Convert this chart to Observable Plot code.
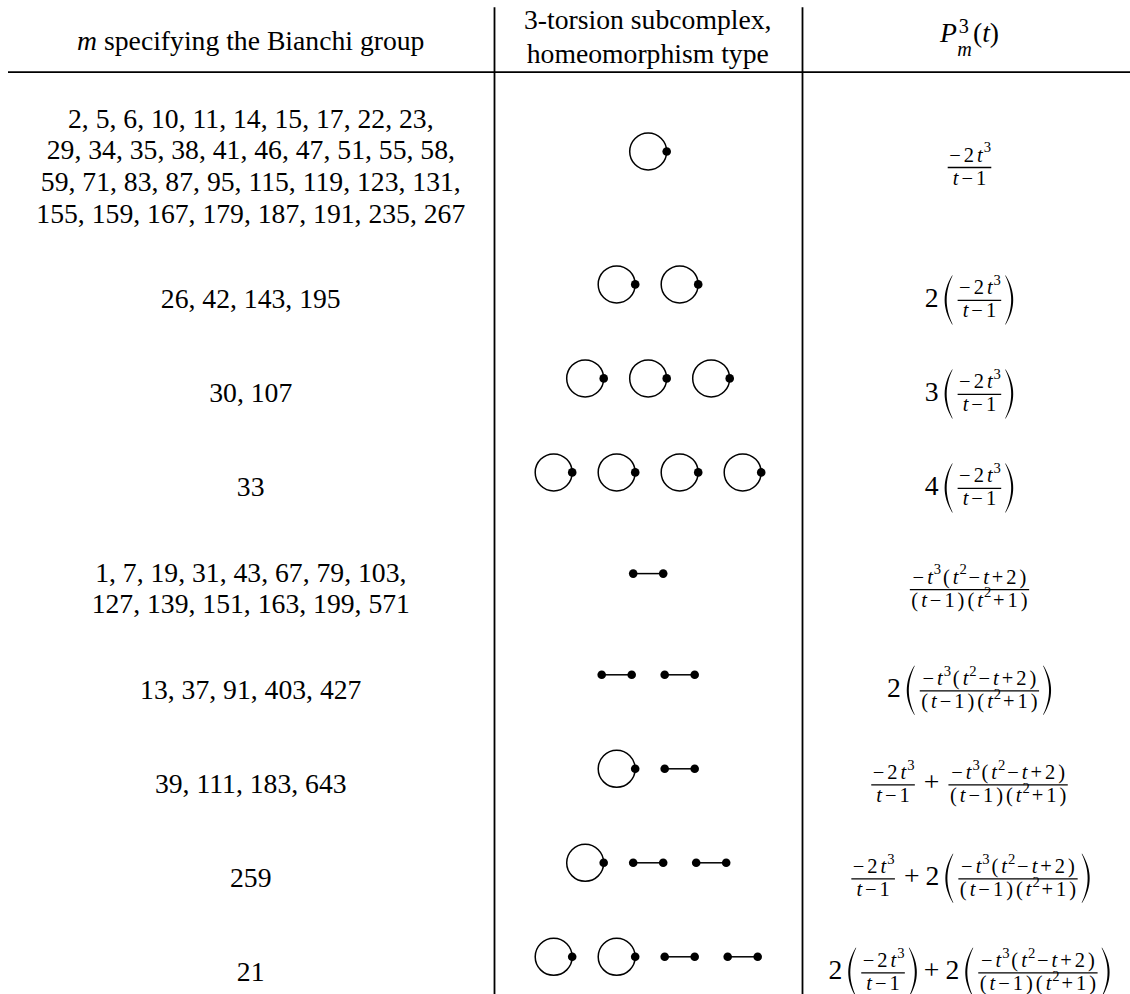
<!DOCTYPE html>
<html><head><meta charset="utf-8">
<script src="https://cdn.jsdelivr.net/npm/d3@7"></script>
<script src="https://cdn.jsdelivr.net/npm/@observablehq/plot@0.6"></script>
<style>
html,body{margin:0;padding:0;background:#fff;overflow:hidden}
</style>
</head><body><div id="chart"></div>
<script>
// ---------------- data ----------------
const headerM = ["m", " specifying the Bianchi group"];          // [italic part, upright part]
const headerType = ["3-torsion subcomplex,", "homeomorphism type"];
const headerP = "P^3_m(t)";
const mLists = [
  ["2, 5, 6, 10, 11, 14, 15, 17, 22, 23,", "29, 34, 35, 38, 41, 46, 47, 51, 55, 58,", "59, 71, 83, 87, 95, 115, 119, 123, 131,", "155, 159, 167, 179, 187, 191, 235, 267"],
  ["26, 42, 143, 195"],
  ["30, 107"],
  ["33"],
  ["1, 7, 19, 31, 43, 67, 79, 103,", "127, 139, 151, 163, 199, 571"],
  ["13, 37, 91, 403, 427"],
  ["39, 111, 183, 643"],
  ["259"],
  ["21"]
];
const loopCounts = [1, 2, 3, 4, 0, 0, 1, 1, 2];   // circles with one vertex
const edgeCounts = [0, 0, 0, 0, 1, 2, 1, 2, 2];   // edges with two vertices
const formulaSpecs = ["A", "2(A)", "3(A)", "4(A)", "B", "2(B)", "A+B", "A+2(B)", "2(A)+2(B)"];
const fractions = {A: ["−2t^3", "t−1"], B: ["−t^3(t^2−t+2)", "(t−1)(t^2+1)"]};

// ---------------- font detection ----------------
const ctx = document.createElement("canvas").getContext("2d");
function fontAvailable(name) {
  const s = "mmmmmmmmmmlli1WQgq0123456789";
  for (const base of ["monospace", "sans-serif", "cursive"]) {
    ctx.font = `50px ${base}`; const a = ctx.measureText(s).width;
    ctx.font = `50px "${name}", ${base}`; const b = ctx.measureText(s).width;
    if (Math.abs(a - b) > 0.5) return true;
  }
  return false;
}
const family = ["Liberation Serif", "Tinos", "Times New Roman", "Nimbus Roman", "TeX Gyre Termes", "DejaVu Serif", "Noto Serif", "FreeSerif"].find(fontAvailable);
const FONT = family ? `"${family}", serif` : "serif";
function tw(s, size, italic) { ctx.font = `${italic ? "italic " : ""}${size}px ${FONT}`; return ctx.measureText(s).width; }

// ---------------- layout (table geometry) ----------------
const W = 1130, H = 994;
const FS = Math.max(22, Math.min(30, 28 * 429 / tw(mLists[0][3], 28, false)));
const FSS = FS * 0.74, FSSS = FS * 0.53, LS = 3;
const col = {left: 8, div1: 494, div2: 802, c1: 250.7, c2: 647.7, c3: 969.5};
const ruleY = 71.7, tableTop = 7.3, rowsTop = 80.1, lineGap = 31.9;
const slotGap = 63, loopR = 18.5, vertR = 4.3, edgeHalf = 15;

// row centres from the number of text lines in each row
const rowCenters = [];
{ let y = rowsTop;
  for (const lines of mLists) { const h = Math.max(94, 45 + 31.7 * lines.length); rowCenters.push(y + h / 2); y += h; } }

const texts = [];    // typeset strings: {x, base, plain, parts:[{s, dx, dy, size, italic}]}
const bars = [];     // fraction bars
const parens = [];   // parenthesis outline points
let parenId = 0;

function plainText(s, x, base, italic, anchor) {
  const w = tw(s, FS, italic);
  const x0 = anchor === "middle" ? x - w / 2 : x;
  texts.push({x: x0, base, plain: s, parts: [{s, dx: 0, dy: 0, size: FS, italic}]});
}

// math string → positioned parts (letters italic; ^x superscript; _x subscript)
function layoutMath(str, size, small, ls) {
  let x = 0, i = 0; const parts = [];
  while (i < str.length) {
    let ch = str[i], kind = "base";
    if (ch === "^" || ch === "_") { kind = ch === "^" ? "sup" : "sub"; ch = str[++i]; }
    i++;
    const italic = /[a-zA-Z]/.test(ch);
    if (kind === "base") {
      const w = tw(ch, size, italic);
      parts.push({s: ch, dx: x, dy: 0, size, italic});
      x += w + ls;
    } else if (kind === "sup") {
      const w = tw(ch, small, italic);
      const sx = x - ls + 1 + (str[i - 3] === "P" ? 1 : 0);
      parts.push({s: ch, dx: sx, dy: -0.45 * size, size: small, italic, sup: true});
      x = sx + w + ls * 0.6;
      if (str[i] === "_") x = sx;
    } else {
      const w = tw(ch, small, italic);
      const sx = x - 1.5;
      parts.push({s: ch, dx: sx, dy: 0.5 * size, size: small, italic, sub: true});
      x = Math.max(x, sx + w) + ls + 1;
    }
  }
  return {parts, width: x - ls};
}

// header
{ const wm = tw(headerM[0], FS, true), wr = tw(headerM[1], FS, false);
  texts.push({x: col.c1 - (wm + wr) / 2, base: 50, plain: headerM.join(""),
    parts: [{s: headerM[0], dx: 0, dy: 0, size: FS, italic: true}, {s: headerM[1], dx: wm, dy: 0, size: FS, italic: false}]});
  headerType.forEach((s, i) => plainText(s, col.c2, i ? 63 : 29.3, false, "middle"));
  const m = layoutMath(headerP, FS, FS * 0.73, 0);
  texts.push({x: col.c3 - m.width / 2, base: 42, plain: "P3m(t)",
    parts: m.parts.map(p => p.sup ? {...p, dy: -9.5} : p.sub ? {...p, dy: 13.5} : p)});
}

// first column: lists of m
mLists.forEach((lines, r) => {
  const c = rowCenters[r];
  lines.forEach((s, k) => plainText(s, col.c1, c + (k - (lines.length - 1) / 2) * lineGap + 0.338 * FS, false, "middle"));
});

// second column: homeomorphism types
const loopsData = [], edgesData = [], vertsData = [];
loopCounts.forEach((nl, r) => {
  const n = nl + edgeCounts[r], y = rowCenters[r] - 15;
  for (let k = 0; k < n; k++) {
    const x = col.c2 + (k - (n - 1) / 2) * slotGap;
    if (k < nl) { loopsData.push({x, y}); vertsData.push({x: x + loopR, y}); }
    else { edgesData.push({x1: x - edgeHalf, x2: x + edgeHalf, y}); vertsData.push({x: x - edgeHalf, y}, {x: x + edgeHalf, y}); }
  }
});

// third column: Poincaré series
function parenPts(xl, axis, open) {
  const id = parenId++;
  for (let k = 0; k <= 16; k++) {
    const u = -1 + k / 8, th = 0.55 + 1.5 * (1 - u * u), y = axis + u * 24.5;
    if (open) { const a = xl + 7.5 * u * u; parens.push({id, y, a, b: a + th}); }
    else { const b = xl + 9 - 7.5 * u * u; parens.push({id, y, a: b - th, b}); }
  }
}
formulaSpecs.forEach((spec, r) => {
  const axis = rowCenters[r] + 1;
  const items = []; let x = 0;
  for (const ch of spec) {
    if (fractions[ch]) {
      const num = layoutMath(fractions[ch][0], FSS, FSSS, LS), den = layoutMath(fractions[ch][1], FSS, FSSS, LS);
      const fw = Math.max(num.width, den.width) + 3;
      items.push({type: "frac", x: x + 3, fw, num, den, n: fractions[ch][0], d: fractions[ch][1]}); x += fw + 6;
    } else if (ch === "(") { items.push({type: "lp", x: x + 1}); x += 11; }
    else if (ch === ")") { items.push({type: "rp", x}); x += 10; }
    else if (ch === "+") { items.push({type: "text", s: ch, x: x + 6}); x += tw(ch, FS, false) + 12; }
    else { items.push({type: "text", s: ch, x}); x += tw(ch, FS, false) + 5; }
  }
  const x0 = col.c3 - x / 2;
  for (const it of items) {
    const xi = x0 + it.x;
    if (it.type === "frac") {
      bars.push({x1: xi, x2: xi + it.fw, y: axis});
      texts.push({x: xi + (it.fw - it.num.width) / 2, base: axis - 5.5, plain: it.n.replace(/\^/g, ""), parts: it.num.parts});
      texts.push({x: xi + (it.fw - it.den.width) / 2, base: axis + 17.5, plain: it.d.replace(/\^/g, ""), parts: it.den.parts});
    } else if (it.type === "lp") parenPts(xi, axis, true);
    else if (it.type === "rp") parenPts(xi, axis, false);
    else plainText(it.s, xi, axis + 7, false, "start");
  }
});

// ---------------- plot ----------------
const chart = Plot.plot({
  width: W, height: H, margin: 0,
  x: {domain: [0, W], range: [0, W], axis: null},
  y: {domain: [0, H], range: [0, H], axis: null},
  style: {background: "white"},
  marks: [
    Plot.ruleY([{y: ruleY, x1: col.left, x2: W}], {y: "y", x1: "x1", x2: "x2", stroke: "black", strokeWidth: 1.8}),
    Plot.ruleX([{x: col.div1}, {x: col.div2}], {x: "x", y1: () => tableTop, y2: () => H, stroke: "black", strokeWidth: 1.8}),
    Plot.dot(loopsData, {x: "x", y: "y", r: loopR, fill: "none", stroke: "black", strokeWidth: 1.5}),
    Plot.link(edgesData, {x1: "x1", x2: "x2", y1: "y", y2: "y", stroke: "black", strokeWidth: 1.5}),
    Plot.dot(vertsData, {x: "x", y: "y", r: vertR, fill: "black", stroke: "none"}),
    Plot.ruleY(bars, {y: "y", x1: "x1", x2: "x2", stroke: "black", strokeWidth: 1.3}),
    Plot.areaX(parens, {y: "y", x1: "a", x2: "b", z: "id", fill: "black", curve: "linear"}),
    Plot.text(texts, {x: "x", y: "base", text: "plain", fontSize: FS, fontFamily: FONT, textAnchor: "start", lineAnchor: "bottom", fill: "black"})
  ]
});

// typeset each string as tspans (italic variables, raised/lowered indices)
{
  const groups = [...chart.querySelectorAll("g")].filter(g => {
    const t = g.querySelectorAll(":scope > text");
    return t.length === texts.length && t[0].textContent === texts[0].plain;
  });
  const g = groups[groups.length - 1];
  if (g) {
    g.removeAttribute("transform");
    g.querySelectorAll(":scope > text").forEach((el, i) => {
      const d = texts[i];
      el.textContent = "";
      el.removeAttribute("transform"); el.removeAttribute("x"); el.removeAttribute("y");
      for (const p of d.parts) {
        const ts = document.createElementNS("http://www.w3.org/2000/svg", "tspan");
        ts.setAttribute("x", (d.x + p.dx).toFixed(2));
        ts.setAttribute("y", (d.base + p.dy).toFixed(2));
        ts.setAttribute("font-size", p.size.toFixed(2));
        if (p.italic) ts.setAttribute("font-style", "italic");
        ts.textContent = p.s;
        el.appendChild(ts);
      }
    });
  }
}
document.getElementById("chart").appendChild(chart);
</script>
</body></html>
